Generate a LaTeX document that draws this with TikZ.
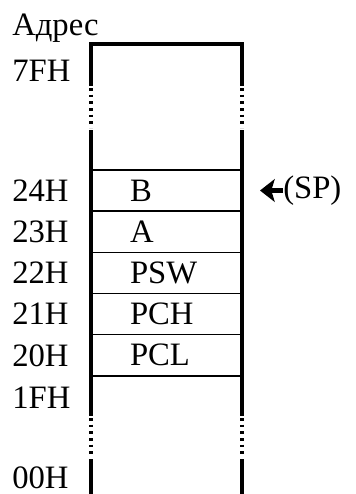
\documentclass[tikz,border=0pt]{standalone}
\usepackage{fontspec}
\setmainfont{Liberation Serif}
\usetikzlibrary{arrows.meta}
\usetikzlibrary{positioning}

\tikzset{
    cell/.style={draw, line width=1pt, minimum height=30.9pt, text width=54.75pt,
        align=left, inner xsep=29.25pt, inner ysep=0pt, outer sep=0pt},
    addr/.style={anchor=west, inner sep=0pt},
    wall/.style={line width=3pt},
    gap/.style={line width=3pt, dash pattern=on 2pt off 3pt},
}

\begin{document}
\begin{tikzpicture}[>=Stealth, x=0.75pt, y=-0.75pt, font=\fontsize{24.5}{28}\selectfont]
    \useasboundingbox (0,0) rectangle (356,494);

    \node[cell] (b) at (166.5,190.5) {B};
    \node[cell, below=0pt of b] (a) {A};
    \node[cell, below=0pt of a] (psw) {PSW};
    \node[cell, below=0pt of psw] (pch) {PCH};
    \node[cell, below=0pt of pch] (pcl) {PCL};

    \coordinate (xa) at (12,0);
    \node[anchor=base west, inner sep=0pt] (title) at (12,35) {Адрес};
    \node[addr] (a7f) at (12,71) {7FH};
    \node[addr] (a24) at (xa |- b) {24H};
    \node[addr] (a23) at (xa |- a) {23H};
    \node[addr] (a22) at (xa |- psw) {22H};
    \node[addr] (a21) at (xa |- pch) {21H};
    \node[addr] (a20) at (xa |- pcl) {20H};
    \node[addr] (a1f) at (12,398) {1FH};
    \node[addr] (a00) at (12,478) {00H};

    \draw[wall] (91,86) -- (91,44) -- (242,44) -- (242,86);
    \foreach \x in {91,242} {
        \draw[gap] (\x,88) -- (\x,128);
        \draw[wall] (\x,130) -- (\x,416);
        \draw[gap] (\x,418) -- (\x,457);
        \draw[wall] (\x,459) -- (\x,494);
    }

    \node[addr] (sp) at (283,190.5) {(SP)};
    \coordinate (tip) at (260,190.5);
    \draw[-{Stealth[length=11pt,width=17pt,inset=2.5pt]}, line width=4pt] (sp.west) -- (tip);
\end{tikzpicture}
\end{document}
